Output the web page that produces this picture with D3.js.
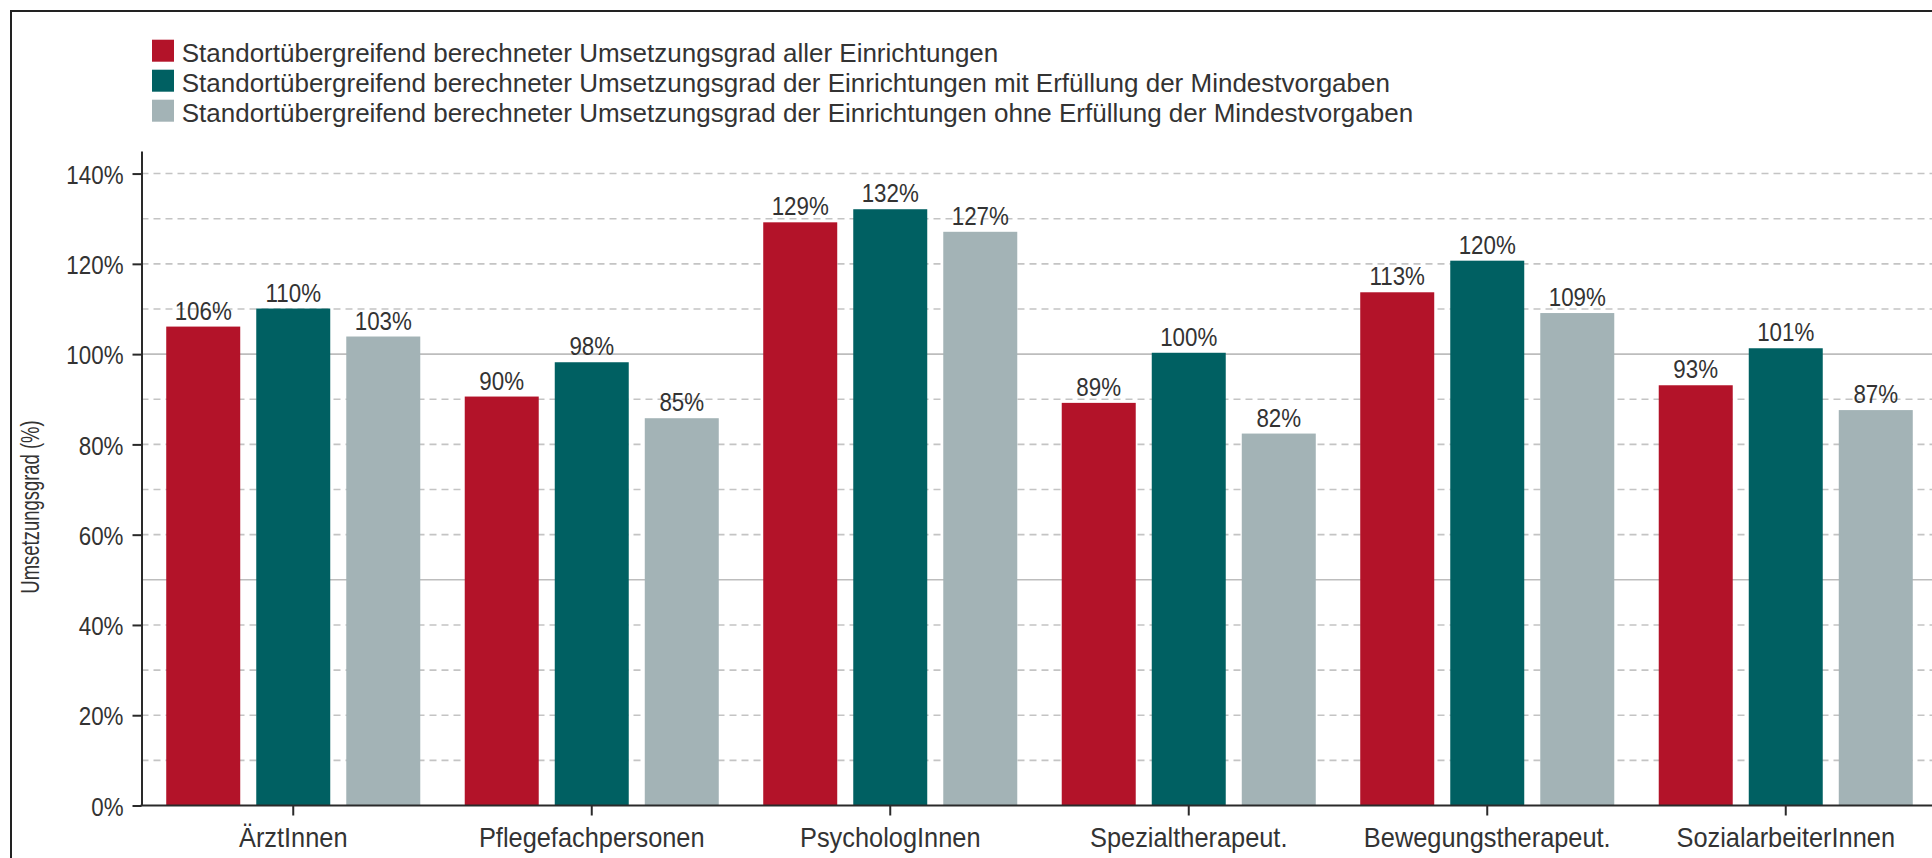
<!DOCTYPE html>
<html>
<head>
<meta charset="utf-8">
<script src="https://cdn.jsdelivr.net/npm/d3@7"></script>
<style>
  body { margin: 0; background: #fff; }
  svg { display: block; }
  text { font-family: "Liberation Sans", Arial, sans-serif; fill: #333; }
</style>
</head>
<body>
<svg id="chart" width="1932" height="858"></svg>
<script>
// ---------- data ----------
const categories = ["ÄrztInnen", "Pflegefachpersonen", "PsychologInnen", "Spezialtherapeut.", "Bewegungstherapeut.", "SozialarbeiterInnen"];
const seriesNames = [
  "Standortübergreifend berechneter Umsetzungsgrad aller Einrichtungen",
  "Standortübergreifend berechneter Umsetzungsgrad der Einrichtungen mit Erfüllung der Mindestvorgaben",
  "Standortübergreifend berechneter Umsetzungsgrad der Einrichtungen ohne Erfüllung der Mindestvorgaben"
];
const allFacilities   = [106.1, 90.6, 129.2, 89.2, 113.7, 93.1];
const withMinimum     = [110.1, 98.2, 132.1, 100.3, 120.7, 101.3];
const withoutMinimum  = [103.9, 85.8, 127.1, 82.4, 109.1, 87.6];
const seriesColors = ["#B31329", "#006062", "#A3B3B6"];
const yTicks = [0, 20, 40, 60, 80, 100, 120, 140];
const dashedGrid = [10, 20, 30, 40, 60, 70, 80, 90, 110, 120, 130, 140];
const solidGrid = [50, 100];
const yTitle = "Umsetzungsgrad (%)";

const series = [allFacilities, withMinimum, withoutMinimum];

// ---------- layout ----------
const W = 1932, H = 858;
const axisX = 141.5, axisY = 805.5;
const svg = d3.select("#chart");

const y = d3.scaleLinear().domain([0, 145]).range([axisY, 151]);
const x = d3.scaleBand().domain(categories).range([144, 1935]).padding(0);
const xs = d3.scaleBand().domain([0, 1, 2]).range([0, x.bandwidth()])
  .paddingInner(0.178).paddingOuter(0.247);

// frame
svg.append("rect").attr("x", 11).attr("y", 11).attr("width", 1960).attr("height", 900)
  .attr("fill", "none").attr("stroke", "#222").attr("stroke-width", 2);

// gridlines
svg.append("g").selectAll("line").data(dashedGrid).join("line")
  .attr("x1", axisX).attr("x2", W)
  .attr("y1", d => y(d)).attr("y2", d => y(d))
  .attr("stroke", "#c4c4c4").attr("stroke-width", 1.6).attr("stroke-dasharray", "7,5");
svg.append("g").selectAll("line").data(solidGrid).join("line")
  .attr("x1", axisX).attr("x2", W)
  .attr("y1", d => y(d)).attr("y2", d => y(d))
  .attr("stroke", "#bdbdbd").attr("stroke-width", 1.6);

// bars
const groups = svg.append("g").selectAll("g").data(categories).join("g")
  .attr("transform", d => `translate(${x(d)},0)`);
groups.each(function(cat, ci) {
  const g = d3.select(this);
  const vals = series.map((s, si) => ({ si, v: s[ci] }));
  g.selectAll("rect").data(vals).join("rect")
    .attr("x", d => xs(d.si)).attr("width", xs.bandwidth())
    .attr("y", d => y(d.v)).attr("height", d => axisY - y(d.v))
    .attr("fill", d => seriesColors[d.si]);
  g.selectAll("text").data(vals).join("text")
    .attr("transform", d => `translate(${xs(d.si) + xs.bandwidth() / 2},${y(d.v) - 7}) scale(0.86,1)`)
    .attr("text-anchor", "middle")
    .attr("font-size", 26)
    .text(d => Math.floor(d.v) + "%");
});

// y axis
const yAxis = svg.append("g").attr("transform", `translate(${axisX},0)`)
  .call(d3.axisLeft(y).tickValues(yTicks).tickSize(9).tickSizeOuter(0).tickPadding(9).tickFormat(d => d + "%"));
yAxis.select(".domain").attr("stroke", "#2a2a2a").attr("stroke-width", 2);
yAxis.selectAll(".tick line").attr("stroke", "#2a2a2a").attr("stroke-width", 2);
yAxis.selectAll(".tick text")
  .attr("font-family", null).attr("font-size", 26).attr("fill", "#3a3a3a")
  .attr("x", -18 / 0.86).attr("dy", "0.37em")
  .attr("transform", "scale(0.86,1)");

// x axis
const xAxis = svg.append("g").attr("transform", `translate(0,${axisY})`)
  .call(d3.axisBottom(x).tickSize(10).tickSizeOuter(0).tickPadding(0));
xAxis.select(".domain").remove();
xAxis.append("line").attr("x1", axisX - 1).attr("x2", W).attr("y1", 0).attr("y2", 0)
  .attr("stroke", "#2a2a2a").attr("stroke-width", 2);
xAxis.selectAll(".tick line").attr("stroke", "#2a2a2a").attr("stroke-width", 2);
xAxis.selectAll(".tick text")
  .attr("font-family", null).attr("font-size", 27).attr("fill", "#333")
  .attr("y", 0).attr("dy", 0)
  .attr("transform", "translate(0,41) scale(0.94,1)");

// y title
svg.append("text")
  .attr("transform", "translate(39,507) rotate(-90) scale(0.71,1)")
  .attr("text-anchor", "middle").attr("font-size", 26)
  .text(yTitle);

// legend
const legend = svg.append("g").selectAll("g").data(seriesNames).join("g")
  .attr("transform", (d, i) => `translate(152,${61.7 + i * 30})`);
legend.append("rect").attr("x", 0).attr("y", -22).attr("width", 22).attr("height", 22)
  .attr("fill", (d, i) => seriesColors[i]);
legend.append("text").attr("x", 29.7).attr("y", 0).attr("font-size", 26)
  .text(d => d);
</script>
</body>
</html>
